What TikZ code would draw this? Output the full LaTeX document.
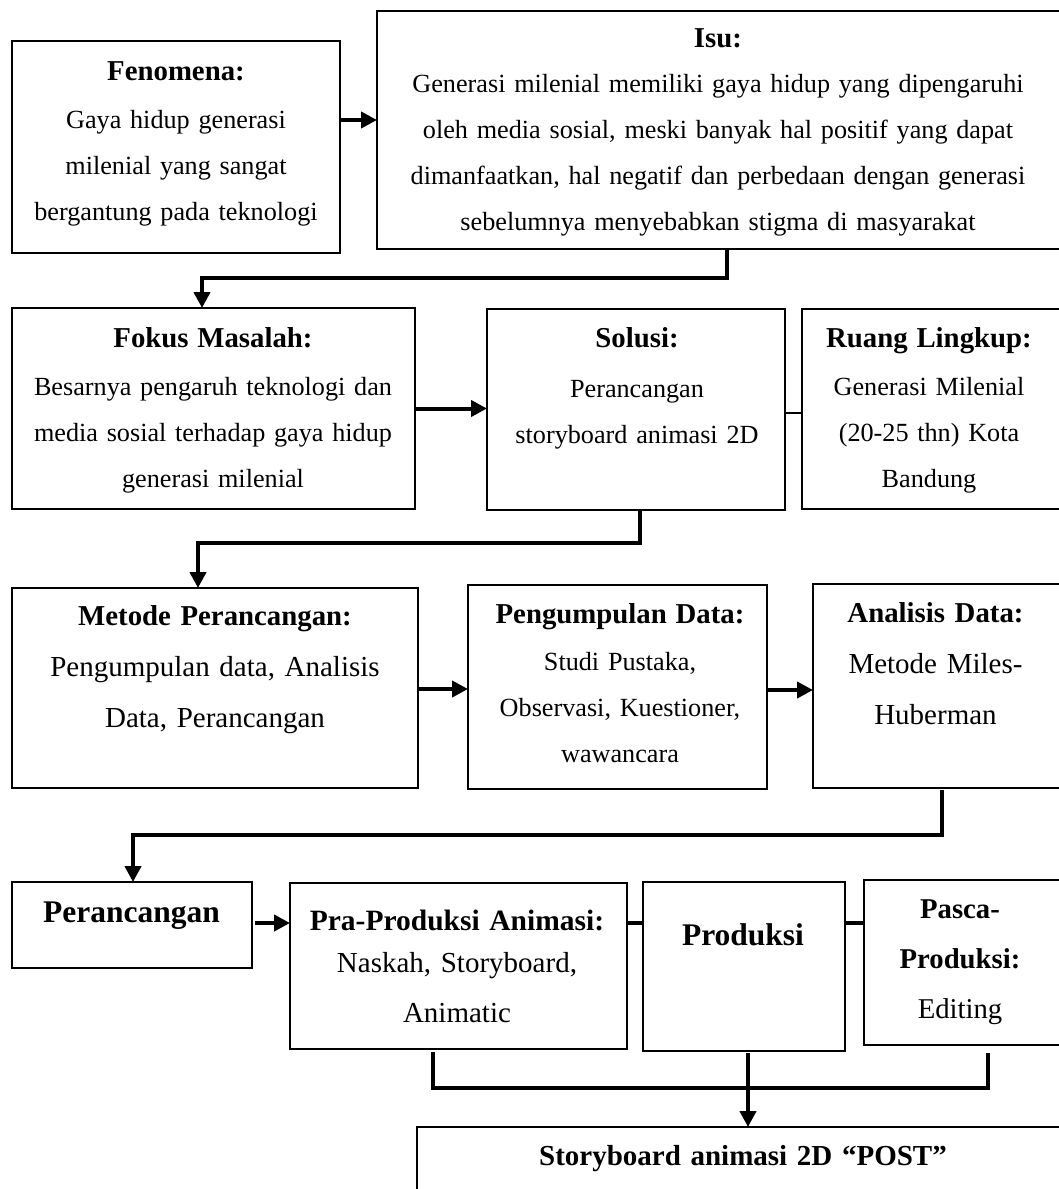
\documentclass[tikz,border=0pt]{standalone}
\usepackage{fontspec}
\setmainfont{Liberation Serif}
\usetikzlibrary{arrows.meta,calc}
\newcommand\bodyfont{\fontsize{26.2}{46}\selectfont}
\newcommand\bodybig{\fontsize{29}{51}\selectfont}
\newcommand\ttl[1]{{\fontsize{28.8}{46}\selectfont\bfseries #1}}
\tikzset{
  box/.style={draw=black, line width=1.6pt, anchor=north west, inner sep=0pt, outer sep=0pt, rectangle},
  txt/.style={anchor=base, align=center, text width=700pt, inner sep=0pt, font=\bodyfont},
  conn/.style={draw=black, line width=4pt},
  arr/.style={conn, -{Triangle[length=16pt,width=16pt]}},
  thin/.style={draw=black, line width=1.8pt}
}
\begin{document}
\begin{tikzpicture}[x=1pt,y=-1pt]
\useasboundingbox (0,0) rectangle (1059,1189);
\fill[white] (0,0) rectangle (1059,1189);
\clip (0,0) rectangle (1059,1189);

% boxes
\node[box, minimum width=328pt, minimum height=212pt] (fen) at (12,41) {};
\node[box, minimum width=720pt, minimum height=238pt] (isu) at (377,11) {};
\node[box, minimum width=403pt, minimum height=201pt] (fok) at (12,308) {};
\node[box, minimum width=298pt, minimum height=201pt] (sol) at (487,309) {};
\node[box, minimum width=300pt, minimum height=200pt] (rua) at (802,309) {};
\node[box, minimum width=406pt, minimum height=200pt] (met) at (12,588) {};
\node[box, minimum width=299pt, minimum height=204pt] (pen) at (468,585) {};
\node[box, minimum width=300pt, minimum height=204pt] (ana) at (813,584) {};
\node[box, minimum width=240pt, minimum height=86pt] (per) at (12,882) {};
\node[box, minimum width=337pt, minimum height=166pt] (pra) at (290,883) {};
\node[box, minimum width=202pt, minimum height=169pt] (pro) at (643,882) {};
\node[box, minimum width=250pt, minimum height=165pt] (pas) at (864,880) {};
\node[box, minimum width=700pt, minimum height=120pt] (sto) at (417,1127) {};

% texts
\node[txt] (fen-t) at (176,80) {\ttl{Fenomena:}\\[2pt]Gaya hidup generasi\\milenial yang sangat\\bergantung pada teknologi};
\node[txt] (isu-t) at (718,47) {\ttl{Isu:}\\[-1pt]Generasi milenial memiliki gaya hidup yang dipengaruhi\\oleh media sosial, meski banyak hal positif yang dapat\\dimanfaatkan, hal negatif dan perbedaan dengan generasi\\sebelumnya menyebabkan stigma di masyarakat};
\node[txt] (fok-t) at (213,347) {\ttl{Fokus Masalah:}\\[2pt]Besarnya pengaruh teknologi dan\\media sosial terhadap gaya hidup\\generasi milenial};
\node[txt] (sol-t) at (637,347) {\ttl{Solusi:}\\[4pt]Perancangan\\storyboard animasi 2D};
\node[txt] (rua-t) at (929,347) {\ttl{Ruang Lingkup:}\\[2pt]Generasi Milenial\\(20-25 thn) Kota\\Bandung};
\node[txt, font=\bodybig] (met-t) at (215,625) {\ttl{Metode Perancangan:}\\Pengumpulan data, Analisis\\Data, Perancangan};
\node[txt] (pen-t) at (620,623) {\ttl{Pengumpulan Data:}\\[1pt]Studi Pustaka,\\Observasi, Kuestioner,\\wawancara};
\node[txt, font=\bodybig] (ana-t) at (935.5,622) {\ttl{Analisis Data:}\\Metode Miles-\\Huberman};
\node[txt, font=\fontsize{31.5}{40}\selectfont\bfseries] (per-t) at (131.5,922) {Perancangan};
\node[txt, font=\fontsize{29}{50}\selectfont] (pra-t) at (457,930) {{\fontsize{29.5}{50}\selectfont\bfseries Pra-Produksi Animasi:}\\[-8pt]Naskah, Storyboard,\\Animatic};
\node[txt, font=\fontsize{31.5}{40}\selectfont\bfseries] (pro-t) at (743,945) {Produksi};
\node[txt, font=\fontsize{28.7}{50}\selectfont] (pas-t) at (960,918) {{\bfseries Pasca-\\Produksi:}\\Editing};
\node[txt, font=\fontsize{29}{40}\selectfont\bfseries] (sto-t) at (743,1165) {Storyboard animasi 2D “POST”};

% connectors
\draw[arr] ([yshift=27pt]fen.east) -- ([yshift=27pt]fen.east -| isu.west);
\draw[arr] ([xshift=350pt]isu.south west) -- ++(0,29) -| ([xshift=190pt]fok.north west);
\draw[arr] (fok.east) -- (fok.east -| sol.west);
\draw[thin] ([yshift=-3.5pt]sol.east) -- ([yshift=-3.5pt]sol.east -| rua.west);
\draw[arr] ([xshift=4pt]sol.south) -- ++(0,33) -| ([xshift=186pt]met.north west);
\draw[arr] ([yshift=-1pt]met.east) -- ([yshift=-1pt]met.east -| pen.west);
\draw[arr] ([yshift=-3pt]pen.east) -- ([yshift=-3pt]pen.east -| ana.west);
\draw[arr] ([xshift=129pt,yshift=-2pt]ana.south west) -- ++(0,45) -| ([xshift=121pt]per.north west);
\draw[arr] ([xshift=3pt,yshift=2pt]per.east) -- ([yshift=2pt]per.east -| pra.west);
\draw[conn] ([yshift=2pt]per.east -| pra.east) -- ([yshift=2pt]per.east -| pro.west);
\draw[conn] ([yshift=2pt]per.east -| pro.east) -- ([yshift=2pt]per.east -| pas.west);
\draw[conn] ([xshift=143pt,yshift=-3pt]pra.south west) -- ++(0,36) -| ([xshift=124pt,yshift=-8pt]pas.south west);
\draw[arr] ([xshift=4pt,yshift=-2pt]pro.south) -- ([xshift=4pt]pro.south |- sto.north);
\end{tikzpicture}
\end{document}
